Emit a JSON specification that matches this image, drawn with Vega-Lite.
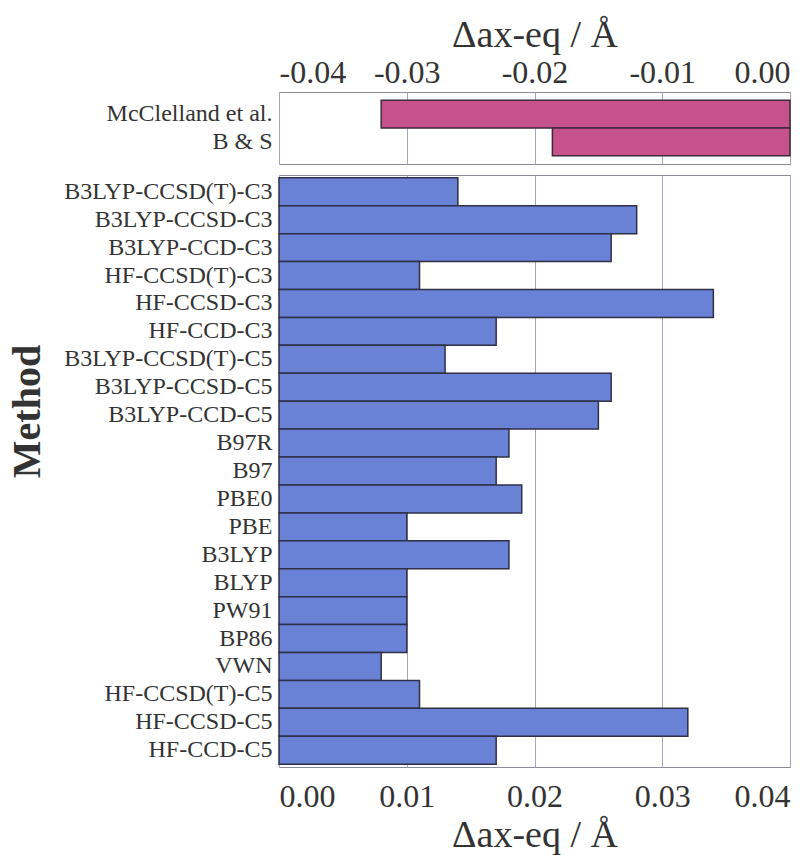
{
  "$schema": "https://vega.github.io/schema/vega-lite/v6.json",
  "background": "white",
  "padding": {"left": 6, "top": 15, "right": 10, "bottom": 2},
  "spacing": 9,
  "config": {
    "font": "Liberation Serif",
    "view": {"stroke": "#8a8a9a", "strokeWidth": 1},
    "axis": {
      "labelFont": "Liberation Serif",
      "titleFont": "Liberation Serif",
      "labelColor": "#333333",
      "titleColor": "#333333",
      "gridColor": "#a4a4bc",
      "gridWidth": 1,
      "domain": false,
      "labelLimit": 0
    }
  },
  "vconcat": [
    {
      "width": 511,
      "height": 72,
      "data": {"values": [
        {"method": "McClelland et al.", "delta": -0.032},
        {"method": "B & S", "delta": -0.0186}
      ]},
      "mark": {"type": "bar", "fill": "#c6528c", "stroke": "#3a2a3a", "strokeWidth": 1.5},
      "encoding": {
        "y": {
          "field": "method", "type": "nominal", "sort": null,
          "scale": {"paddingInner": 0, "paddingOuter": 0.3},
          "axis": {"title": null, "labelFontSize": 24, "ticks": false, "labelPadding": 7}
        },
        "x": {
          "field": "delta", "type": "quantitative",
          "scale": {"domain": [-0.04, 0], "nice": false},
          "axis": {
            "orient": "top", "values": [-0.04, -0.03, -0.02, -0.01, 0], "format": ".2f",
            "labelExpr": "replace(datum.label, '\u2212', '-')",
            "labelFontSize": 32, "ticks": false, "labelPadding": 3,
            "title": "Δax-eq  /  Å", "titleFontSize": 38, "titleFontWeight": "normal", "titlePadding": 2,
            "grid": true
          }
        }
      }
    },
    {
      "width": 511,
      "height": 592,
      "data": {"values": [
        {"method": "B3LYP-CCSD(T)-C3", "delta": 0.014},
        {"method": "B3LYP-CCSD-C3", "delta": 0.028},
        {"method": "B3LYP-CCD-C3", "delta": 0.026},
        {"method": "HF-CCSD(T)-C3", "delta": 0.011},
        {"method": "HF-CCSD-C3", "delta": 0.034},
        {"method": "HF-CCD-C3", "delta": 0.017},
        {"method": "B3LYP-CCSD(T)-C5", "delta": 0.013},
        {"method": "B3LYP-CCSD-C5", "delta": 0.026},
        {"method": "B3LYP-CCD-C5", "delta": 0.025},
        {"method": "B97R", "delta": 0.018},
        {"method": "B97", "delta": 0.017},
        {"method": "PBE0", "delta": 0.019},
        {"method": "PBE", "delta": 0.010},
        {"method": "B3LYP", "delta": 0.018},
        {"method": "BLYP", "delta": 0.010},
        {"method": "PW91", "delta": 0.010},
        {"method": "BP86", "delta": 0.010},
        {"method": "VWN", "delta": 0.008},
        {"method": "HF-CCSD(T)-C5", "delta": 0.011},
        {"method": "HF-CCSD-C5", "delta": 0.032},
        {"method": "HF-CCD-C5", "delta": 0.017}
      ]},
      "mark": {"type": "bar", "fill": "#6a82d6", "stroke": "#2f2f45", "strokeWidth": 1.5},
      "encoding": {
        "y": {
          "field": "method", "type": "nominal", "sort": null,
          "scale": {"paddingInner": 0, "paddingOuter": 0.1},
          "axis": {
            "title": "Method", "titleFontSize": 40, "titleFontWeight": "bold", "titlePadding": 32,
            "titleY": 236,
            "labelFontSize": 24, "ticks": false, "labelPadding": 7
          }
        },
        "x": {
          "field": "delta", "type": "quantitative",
          "scale": {"domain": [0, 0.04], "nice": false},
          "axis": {
            "orient": "bottom", "values": [0, 0.01, 0.02, 0.03, 0.04], "format": ".2f",
            "labelFontSize": 32, "ticks": false, "labelPadding": 14,
            "title": "Δax-eq  /  Å", "titleFontSize": 38, "titleFontWeight": "normal", "titlePadding": 4,
            "grid": true
          }
        }
      }
    }
  ]
}
